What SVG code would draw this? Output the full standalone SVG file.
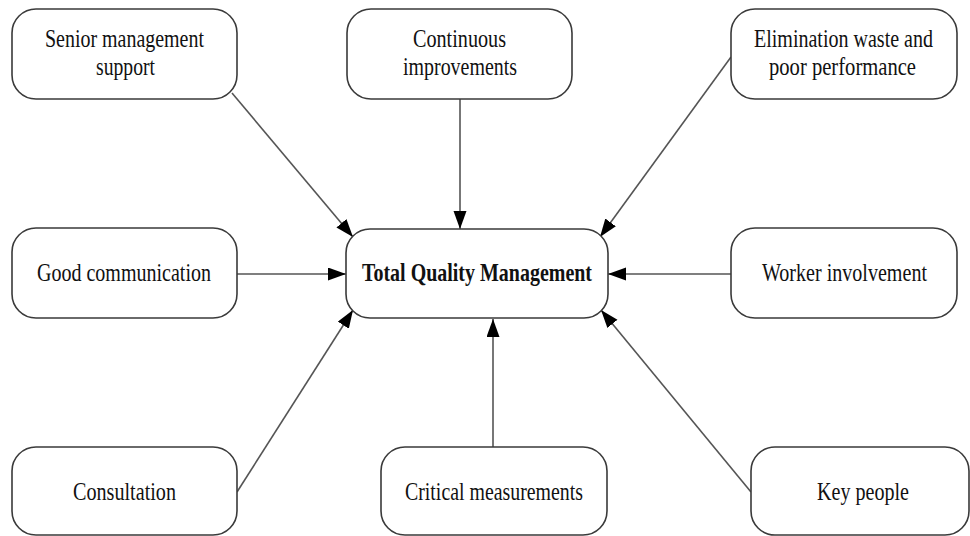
<svg xmlns="http://www.w3.org/2000/svg" width="970" height="536" viewBox="0 0 970 536">
<style>
.box{fill:#fff;stroke:#3a3a3a;stroke-width:1.6}
.lbl{font-family:"Liberation Serif","Times New Roman",serif;font-size:25px;fill:#111;text-anchor:middle}
.b{font-weight:bold}
.edge{stroke:#555;stroke-width:1.6;fill:none;marker-end:url(#ah)}
</style>
<defs>
<marker id="ah" markerUnits="userSpaceOnUse" markerWidth="20" markerHeight="14" refX="18" refY="6.5" orient="auto">
<path d="M0,0 L18,6.5 L0,13 Z" fill="#000"/>
</marker>
</defs>
<rect width="970" height="536" fill="#fff"/>
<g id="connectors">
<line class="edge" x1="232" y1="93" x2="353" y2="237"/>
<line class="edge" x1="460" y1="99" x2="460" y2="229"/>
<line class="edge" x1="731" y1="57" x2="600" y2="237"/>
<line class="edge" x1="237" y1="274" x2="346" y2="274"/>
<line class="edge" x1="731" y1="274" x2="608" y2="274"/>
<line class="edge" x1="237" y1="492" x2="353" y2="310"/>
<line class="edge" x1="493" y1="447" x2="493" y2="319"/>
<line class="edge" x1="751" y1="492" x2="601" y2="310"/>
</g>
<g id="senior">
<rect class="box" x="12" y="9" width="225" height="90" rx="24"/>
<text class="lbl" x="124.5" y="47" textLength="159" lengthAdjust="spacingAndGlyphs">Senior management</text>
<text class="lbl" x="125.5" y="75" textLength="59" lengthAdjust="spacingAndGlyphs">support</text>
</g>
<g id="continuous">
<rect class="box" x="347" y="9" width="225" height="90" rx="24"/>
<text class="lbl" x="459.5" y="47" textLength="93" lengthAdjust="spacingAndGlyphs">Continuous</text>
<text class="lbl" x="460" y="75" textLength="114" lengthAdjust="spacingAndGlyphs">improvements</text>
</g>
<g id="elimination">
<rect class="box" x="731" y="9" width="226" height="90" rx="24"/>
<text class="lbl" x="843.5" y="47" textLength="179" lengthAdjust="spacingAndGlyphs">Elimination waste and</text>
<text class="lbl" x="842.5" y="75" textLength="147" lengthAdjust="spacingAndGlyphs">poor performance</text>
</g>
<g id="good">
<rect class="box" x="12" y="228" width="225" height="90" rx="24"/>
<text class="lbl" x="124" y="281" textLength="174" lengthAdjust="spacingAndGlyphs">Good communication</text>
</g>
<g id="tqm">
<rect class="box" x="346" y="229" width="262" height="89" rx="24"/>
<text class="lbl b" x="477" y="281" textLength="230" lengthAdjust="spacingAndGlyphs">Total Quality Management</text>
</g>
<g id="worker">
<rect class="box" x="731" y="228" width="226" height="90" rx="24"/>
<text class="lbl" x="844.5" y="281" textLength="165" lengthAdjust="spacingAndGlyphs">Worker involvement</text>
</g>
<g id="consultation">
<rect class="box" x="12" y="447" width="225" height="88" rx="24"/>
<text class="lbl" x="124.5" y="500" textLength="103" lengthAdjust="spacingAndGlyphs">Consultation</text>
</g>
<g id="critical">
<rect class="box" x="381" y="447" width="226" height="88" rx="24"/>
<text class="lbl" x="494" y="500" textLength="178" lengthAdjust="spacingAndGlyphs">Critical measurements</text>
</g>
<g id="key">
<rect class="box" x="751" y="447" width="218" height="88" rx="24"/>
<text class="lbl" x="863" y="500" textLength="92" lengthAdjust="spacingAndGlyphs">Key people</text>
</g>
</svg>
